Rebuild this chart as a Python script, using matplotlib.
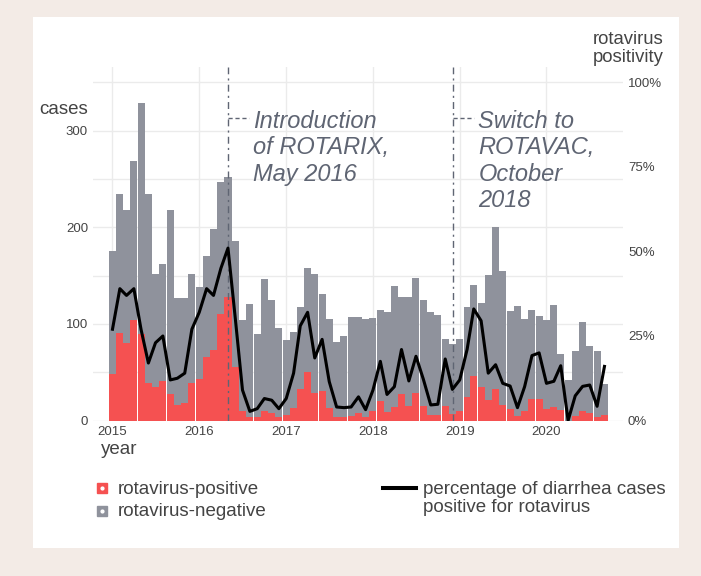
import pandas as pd
import matplotlib
matplotlib.use('Agg')
import matplotlib.pyplot as plt
from matplotlib.lines import Line2D
from matplotlib.patches import Rectangle

# monthly diarrhea cases, Jan 2015 - Sep 2020
months = pd.date_range('2015-01-01', '2020-09-01', freq='MS')

total_cases = [176, 235, 218, 269, 329, 234, 152, 162, 218, 127, 127, 152,
               138, 170, 198, 247, 252, 186, 104, 121, 90, 146, 125, 96,
               83, 92, 118, 158, 152, 131, 105, 81, 88, 107, 107, 105,
               106, 114, 112, 139, 128, 128, 148, 125, 112, 109, 84, 79,
               84, 117, 140, 122, 151, 200, 155, 113, 119, 105, 114, 108,
               104, 120, 69, 42, 72, 102, 77, 72, 38]

positive_cases = [48, 91, 80, 104, 90, 39, 35, 41, 27, 16, 18, 39,
                  43, 66, 73, 110, 128, 55, 10, 3.5, 3.5, 10, 7.5, 3.5,
                  5.5, 12.5, 33, 50, 28, 31, 12.5, 3.5, 3.5, 4.5, 7.5, 3.5,
                  9.5, 20, 8.5, 14, 27, 15, 28, 15.5, 5.5, 5.5, 15.5, 7,
                  9.7, 24, 46, 35, 21, 33, 16.5, 11.5, 4.5, 10, 22, 22,
                  11.5, 14, 11, 0, 5, 10, 8, 3.2, 6]

positivity_pct = [27, 39, 37, 39, 27, 17, 23, 25, 12, 12.5, 14, 27,
                  32, 39, 37, 45, 51, 30, 9, 2.7, 3.5, 6.5, 6, 3.5,
                  6.5, 14, 28, 32, 18.5, 24, 11.5, 4, 3.8, 4, 7, 3.2,
                  9, 17.5, 7.7, 10, 21, 11.7, 19, 12.2, 4.6, 4.8, 18.2, 9.2,
                  12, 21, 33, 29.5, 14, 16.5, 11, 10.2, 3.8, 10, 19.2, 20,
                  11, 11.6, 16.2, 0, 7.3, 10.1, 10.5, 4.2, 16]

year_ticks = pd.to_datetime(['2015-01-01', '2016-01-01', '2017-01-01',
                             '2018-01-01', '2019-01-01', '2020-01-01'])
year_labels = ['2015', '2016', '2017', '2018', '2019', '2020']
case_ticks = [0, 50, 100, 150, 200, 250, 300, 350]
case_labels = ['0', '', '100', '', '200', '', '300', '']
pct_ticks = [0, 25, 50, 75, 100]
pct_labels = ['0%', '25%', '50%', '75%', '100%']

RED = '#f55151'
GRAY = '#8f929c'
NOTE = '#5f6573'
TXT = '#444444'

plt.rcParams['font.family'] = ['Liberation Sans', 'DejaVu Sans']

W, H = 701, 576
fig = plt.figure(figsize=(W / 100, H / 100), dpi=100)
fig.patch.set_facecolor('#f3ebe6')
fig.add_artist(Rectangle((33 / W, 1 - 548 / H), 646 / W, 531 / H,
                         transform=fig.transFigure, facecolor='white',
                         edgecolor='none', zorder=-1))

ax = fig.add_axes([93 / W, 1 - 420.5 / H, 530 / W, 353.5 / H])
ax.set_facecolor('none')
ax.bar(months, total_cases, width=29.5, color=GRAY, zorder=2)
ax.bar(months, positive_cases, width=29.5, color=RED, zorder=3)
ax.set_ylim(0, 366)
ax.set_xlim(pd.Timestamp('2014-10-11'), pd.Timestamp('2020-11-18'))
ax.set_yticks(case_ticks)
ax.set_yticklabels(case_labels)
ax.set_xticks(year_ticks)
ax.set_xticklabels(year_labels)
ax.grid(True, color='#ebebeb', lw=1, zorder=0)
ax.set_axisbelow(True)
ax.tick_params(length=0, labelsize=9.5, labelcolor=TXT)
ax.tick_params(axis='y', pad=3.6)
ax.tick_params(axis='x', pad=4)
for s in ax.spines.values():
    s.set_visible(False)

ax2 = ax.twinx()
ax2.plot(months, positivity_pct, color='black', lw=2.2, zorder=5)
ax2.set_ylim(0, 366 / 3.5)
ax2.set_yticks(pct_ticks)
ax2.set_yticklabels(pct_labels)
ax2.tick_params(length=0, labelsize=9.5, labelcolor=TXT, pad=3.6)
for s in ax2.spines.values():
    s.set_visible(False)

# vaccine annotations
px_case = 353.5 / 366
day = pd.Timedelta(days=1)
notes = [(pd.Timestamp('2016-05-01'), 'Introduction\nof ROTARIX,\nMay 2016'),
         (pd.Timestamp('2018-12-04'), 'Switch to\nROTAVAC,\nOctober\n2018')]
for d, label in notes:
    ax.axvline(d, color=NOTE, lw=1, dashes=(5, 3, 1.5, 3), zorder=6)
    ax.plot([d, d + 88 * day], [(420.5 - 117.7) / px_case] * 2, color=NOTE,
            lw=1, dashes=(3, 2), zorder=6)
    ax.text(d + 106 * day, (420.5 - 109.5) / px_case, label, fontsize=17,
            style='italic', color=NOTE, va='top', ha='left',
            linespacing=1.2, zorder=7)

fig.text(88 / W, 1 - 109 / H, 'cases', ha='right', va='center',
         fontsize=13.5, color=TXT)
fig.text(101 / W, 1 - 450 / H, 'year', ha='left', va='center',
         fontsize=13.5, color=TXT)
fig.text(664 / W, 1 - 30.5 / H, 'rotavirus\npositivity', ha='right',
         va='top', fontsize=13.3, color=TXT, linespacing=1.08)

# legend
for y, c, lab in [(488, RED, 'rotavirus-positive'),
                  (511, GRAY, 'rotavirus-negative')]:
    fig.add_artist(Line2D([101.5 / W], [1 - y / H], marker='s', ms=7.5,
                          color=c, ls='none', transform=fig.transFigure))
    fig.add_artist(Line2D([101.5 / W], [1 - y / H], marker='o', ms=2,
                          color='white', ls='none', transform=fig.transFigure))
    fig.text(118 / W, 1 - (y + 1) / H, lab, ha='left', va='center',
             fontsize=13.5, color=TXT)
fig.add_artist(Line2D([383 / W, 416 / W], [1 - 488 / H] * 2, lw=2.9,
                      color='black', transform=fig.transFigure))
fig.text(423 / W, 1 - 480.5 / H, 'percentage of diarrhea cases\npositive for rotavirus',
         ha='left', va='top', fontsize=13.5, color=TXT, linespacing=1.08)

fig.savefig('out.png', dpi=100, facecolor=fig.get_facecolor())
